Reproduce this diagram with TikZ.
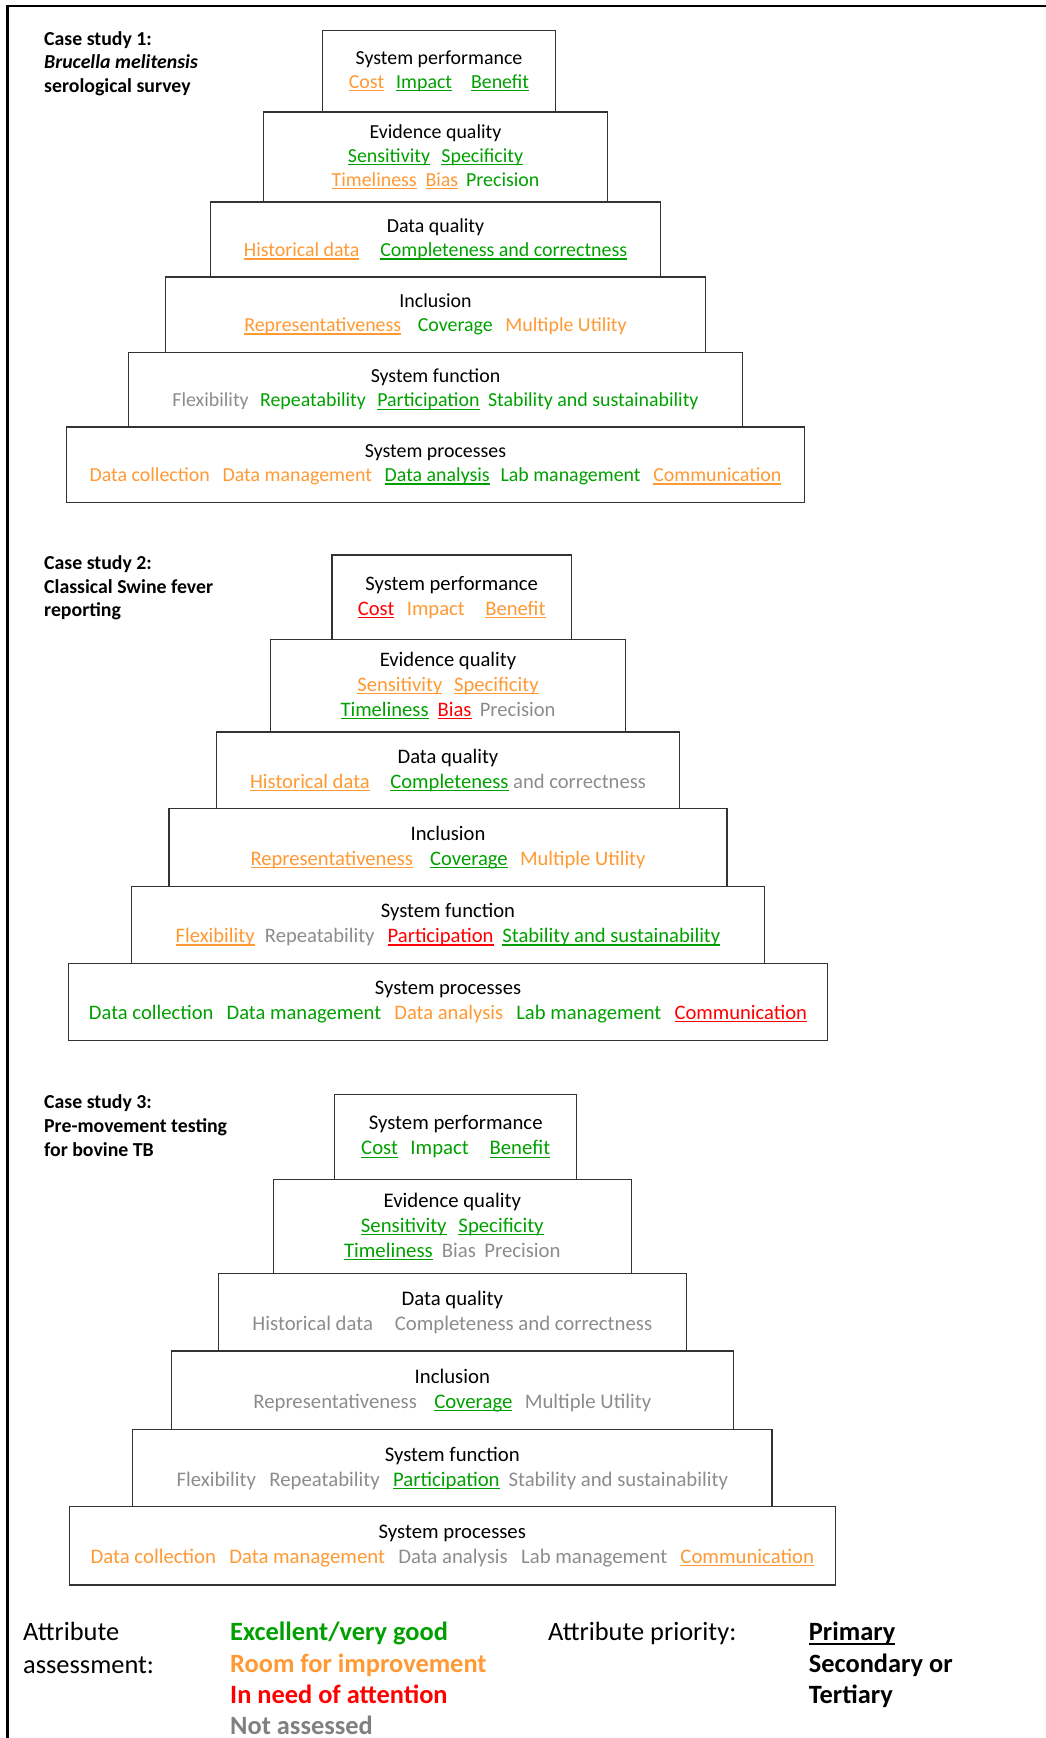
\documentclass[tikz,border=0pt]{standalone}
\usepackage{fontspec}
\setmainfont{Carlito}
\usetikzlibrary{positioning}

\definecolor{good}{RGB}{0,160,0}
\definecolor{fair}{RGB}{255,153,51}
\definecolor{poor}{RGB}{255,0,0}
\definecolor{unrated}{RGB}{140,140,140}

\newcommand\lvlfont{\fontsize{19.9}{24}\selectfont}
\newcommand\casefont{\fontsize{19.8}{23.7}\selectfont\bfseries}
\newcommand\keyfont{\fontsize{26.4}{31.3}\selectfont}
\newcommand\keyfontwide{\fontsize{26.4}{33.3}\selectfont}
\newcommand\aGood[1]{\textcolor{good}{#1}}
\newcommand\aFair[1]{\textcolor{fair}{#1}}
\newcommand\aPoor[1]{\textcolor{poor}{#1}}
\newcommand\aNone[1]{\textcolor{unrated}{#1}}
\newcommand\prim[1]{\setbox0=\hbox{#1}\rlap{\rule[-0.15em]{\wd0}{0.07em}}\box0}
\newcommand\wgap{\hspace{0.64em}}

\begin{document}
\begin{tikzpicture}[x=1pt, y=-1pt,
  lvl/.style={draw=black!80, line width=1.2pt, outer sep=0pt, align=center, font=\lvlfont},
  tag/.style={anchor=north west, inner sep=0pt, align=left, font=\casefont},
  key/.style={anchor=north west, inner sep=0pt, align=left, font=\keyfont}]
  \useasboundingbox (0,0) rectangle (1045,1738);
  \draw[line width=2.4pt] (7.5,1750) -- (7.5,6) -- (1060,6);

  % case study 1
  \node (c1) [tag] at (44,31) {Case study 1:\\\textit{Brucella melitensis}\\serological survey};
  \node (sp1) [lvl, minimum width=232.6pt, minimum height=81.7pt] at (439,71.2)
    {System performance\\\aFair{\prim{Cost}}\hspace{0.6em}\aGood{\prim{Impact}}\hspace{0.95em}\aGood{\prim{Benefit}}};
  \node (eq1) [lvl, minimum width=344.7pt, minimum height=90pt, below=0pt of sp1, xshift=-3.5pt]
    {Evidence quality\\\aGood{\prim{Sensitivity}}\hspace{0.57em}\aGood{\prim{Specificity}}\\
     \aFair{\prim{Timeliness}}\hspace{0.44em}\aFair{\prim{Bias}}\hspace{0.4em}\aGood{Precision}};
  \node (dq1) [lvl, minimum width=450pt, minimum height=75pt, below=0pt of eq1]
    {Data quality\\\aFair{\prim{Historical data}}\hspace{1.05em}\aGood{\prim{Completeness and correctness}}};
  \node (in1) [lvl, minimum width=540.6pt, minimum height=75.3pt, below=0pt of dq1]
    {Inclusion\\\aFair{\prim{Representativeness}}\hspace{0.84em}\aGood{Coverage}\wgap\aFair{Multiple Utility}};
  \node (sf1) [lvl, minimum width=614.7pt, minimum height=74.7pt, below=0pt of in1]
    {System function\\\aNone{Flexibility}\hspace{0.57em}\aGood{Repeatability}\hspace{0.57em}\aGood{\prim{Participation}}\hspace{0.43em}\aGood{Stability and sustainability}};
  \node (pr1) [lvl, minimum width=737.3pt, minimum height=75.7pt, below=0pt of sf1]
    {System processes\\\aFair{Data collection}\wgap\aFair{Data management}\wgap\aGood{\prim{Data analysis}}\hspace{0.54em}\aGood{Lab management}\wgap\aFair{\prim{Communication}}};

  % case study 2
  \node (c2) [tag] at (44,555.4) {Case study 2:\\Classical Swine fever\\reporting};
  \begin{scope}[lvl/.append style={font=\fontsize{20.6}{25}\selectfont}]
  \node (sp2) [lvl, minimum width=239.3pt, minimum height=84.3pt] at (451.7,597.2)
    {System performance\\\aPoor{\prim{Cost}}\hspace{0.6em}\aFair{Impact}\hspace{1em}\aFair{\prim{Benefit}}};
  \node (eq2) [lvl, minimum width=354.6pt, minimum height=92.7pt, below=0pt of sp2, xshift=-3.7pt]
    {Evidence quality\\\aFair{\prim{Sensitivity}}\hspace{0.57em}\aFair{\prim{Specificity}}\\
     \aGood{\prim{Timeliness}}\hspace{0.44em}\aPoor{\prim{Bias}}\hspace{0.4em}\aNone{Precision}};
  \node (dq2) [lvl, minimum width=463.3pt, minimum height=76.5pt, below=0pt of eq2]
    {Data quality\\\aFair{\prim{Historical data}}\hspace{1em}\aGood{\prim{Completeness}} \aNone{and correctness}};
  \node (in2) [lvl, minimum width=558pt, minimum height=77.8pt, below=0pt of dq2]
    {Inclusion\\\aFair{\prim{Representativeness}}\hspace{0.84em}\aGood{\prim{Coverage}}\hspace{0.6em}\aFair{Multiple Utility}};
  \node (sf2) [lvl, minimum width=633.4pt, minimum height=77pt, below=0pt of in2]
    {System function\\\aFair{\prim{Flexibility}}\hspace{0.5em}\aNone{Repeatability}\wgap\aPoor{\prim{Participation}}\hspace{0.43em}\aGood{\prim{Stability and sustainability}}};
  \node (pr2) [lvl, minimum width=758.6pt, minimum height=77pt, below=0pt of sf2]
    {System processes\\\aGood{Data collection}\wgap\aGood{Data management}\wgap\aFair{Data analysis}\wgap\aGood{Lab management}\wgap\aPoor{\prim{Communication}}};
  \end{scope}

  % case study 3
  \node (c3) [tag] at (44,1094.8) {Case study 3:\\Pre-movement testing\\for bovine TB};
  \begin{scope}[lvl/.append style={font=\fontsize{20.75}{25}\selectfont}]
  \node (sp3) [lvl, minimum width=242pt, minimum height=85.4pt] at (455.7,1137)
    {System performance\\\aGood{\prim{Cost}}\hspace{0.6em}\aGood{Impact}\hspace{1em}\aGood{\prim{Benefit}}};
  \node (eq3) [lvl, minimum width=358pt, minimum height=93.6pt, below=0pt of sp3, xshift=-3.4pt]
    {Evidence quality\\\aGood{\prim{Sensitivity}}\hspace{0.57em}\aGood{\prim{Specificity}}\\
     \aGood{\prim{Timeliness}}\hspace{0.44em}\aNone{Bias}\hspace{0.4em}\aNone{Precision}};
  \node (dq3) [lvl, minimum width=468pt, minimum height=77.7pt, below=0pt of eq3]
    {Data quality\\\aNone{Historical data}\hspace{1.05em}\aNone{Completeness and correctness}};
  \node (in3) [lvl, minimum width=562pt, minimum height=78.7pt, below=0pt of dq3]
    {Inclusion\\\aNone{Representativeness}\hspace{0.84em}\aGood{\prim{Coverage}}\hspace{0.6em}\aNone{Multiple Utility}};
  \node (sf3) [lvl, minimum width=639.3pt, minimum height=76.6pt, below=0pt of in3]
    {System function\\\aNone{Flexibility}\wgap\aNone{Repeatability}\wgap\aGood{\prim{Participation}}\hspace{0.43em}\aNone{Stability and sustainability}};
  \node (pr3) [lvl, minimum width=766pt, minimum height=78.7pt, below=0pt of sf3]
    {System processes\\\aFair{Data collection}\wgap\aFair{Data management}\wgap\aNone{Data analysis}\wgap\aNone{Lab management}\wgap\aFair{\prim{Communication}}};
  \end{scope}

  % legend
  \node (k1) [key, font=\keyfontwide] at (23,1622) {Attribute\\assessment:};
  \node (k2) [key, font=\keyfont\bfseries] at (230,1622)
    {\aGood{Excellent/very good}\\\aFair{Room for improvement}\\\aPoor{In need of attention}\\\textcolor{gray}{Not assessed}};
  \node (k3) [key] at (548,1622) {Attribute priority:};
  \node (k4) [key, font=\keyfont\bfseries] at (808.7,1622) {\prim{Primary}\\Secondary or\\Tertiary};
\end{tikzpicture}
\end{document}
